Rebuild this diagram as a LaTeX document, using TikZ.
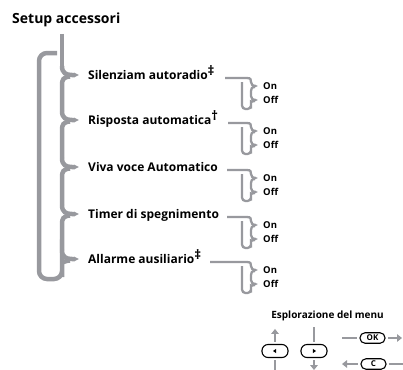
\documentclass[tikz,border=0pt]{standalone}
\usepackage{fontspec}
\setmainfont{Open Sans}
\usetikzlibrary{arrows.meta}

\definecolor{treegray}{RGB}{152,153,158}
\newcommand{\supmark}[1]{\raisebox{0.3em}{\fontsize{13}{13}\selectfont#1}}

\begin{document}
\begin{tikzpicture}[x=1pt, y=-1pt, >=Latex, font=\bfseries,
  trunk/.style={draw=treegray, line width=4.5pt},
  twig/.style={draw=treegray, line width=2.3pt},
  tipend/.style={-{Triangle[length=5pt,width=4.5pt]}},
  twigend/.style={-{Triangle[length=3pt,width=2.3pt]}},
  item/.style={anchor=base west, inner sep=0pt, font=\bfseries\fontsize{12}{14}\selectfont},
  choice/.style={anchor=base west, inner sep=0pt, font=\bfseries\fontsize{9.5}{11}\selectfont},
  navbar/.style={draw=treegray, line width=2.8pt},
  navarrow/.style={navbar, -{Triangle[length=5pt,width=7.5pt]}},
  navkey/.style={draw, line width=1.1pt, inner sep=0pt, rounded corners=6pt,
    minimum width=26pt, minimum height=13pt},
  navoval/.style={draw, line width=1.1pt, inner sep=0pt, rounded corners=5pt,
    minimum width=25pt, minimum height=10.5pt, font=\bfseries\fontsize{8}{8}\selectfont}]
  \useasboundingbox (0,0) rectangle (403,369);

  \node[anchor=base west, inner sep=0pt, font=\bfseries\fontsize{14}{16}\selectfont]
    (title) at (12,24) {Setup accessori};

  % trunk of the menu
  \coordinate (top) at (62,34);
  \draw[trunk] (top) -- (62,66);
  \foreach \a/\b in {75/120,120/167,167/214,214/259}
    \draw[trunk] (70,\a+1.5) .. controls (63,\a+2) and (62,\a+5) .. (62,\a+10) -- (62,\b-9);
  \draw[trunk, rounded corners=8pt] (70,260.5) .. controls (63,261) and (62,264) .. (62,269)
    -- (62,279) -- (39,279) -- (39,53) -- (57,53);

  \foreach \t/\s/\txt [count=\i] in {
      75/225/{Silenziam autoradio\supmark{‡}},
      120/228/{Risposta automatica\supmark{†}},
      167/227/{Viva voce Automatico},
      214/227/{Timer di spegnimento},
      259/210/{Allarme ausiliario\supmark{‡}}}{
    \pgfmathsetmacro{\h}{\t+3}
    \node[item] (item\i) at (88,\t+4.3) {\txt};
    \coordinate (tip\i) at (79,\t);
    \coordinate (feed\i) at (\s,\h);
    \draw[trunk, tipend] (62,\t-9) .. controls (62,\t-2) and (66,\t) .. (72,\t) -- (tip\i);
    % on / off choice
    \node[choice] (on\i) at (263,\h+11.5) {On};
    \node[choice] (off\i) at (263,\h+25.5) {Off};
    \draw[twig, twigend] (feed\i) -- (247,\h) .. controls (251,\h) and (251,\h+2) .. (251,\h+4)
      .. controls (251,\h+7) and (253,\h+8) .. (258,\h+8);
    \draw[twig, twigend] (255,\h+9) .. controls (251.5,\h+9) and (251,\h+11) .. (251,\h+13)
      -- (251,\h+18) .. controls (251,\h+21) and (253,\h+22) .. (258,\h+22);
    \draw[twig, rounded corners=3.5pt] (255,\h+23) .. controls (251.5,\h+23) and (251,\h+25) .. (251,\h+27)
      -- (251,\h+31) -- (242,\h+31) -- (242,\h+4);
  }

  % menu navigation keys
  \node[anchor=base east, inner sep=0pt, font=\bfseries\fontsize{10}{12}\selectfont]
    (navtitle) at (384,318) {Esplorazione del menu};
  \node[navkey] (kleft) at (275,351) {};
  \node[navkey] (kright) at (314,351) {};
  \fill (kleft.center) ++(-2,0) -- ++(3.2,-2.2) -- ++(0,4.4) -- cycle;
  \fill (kright.center) ++(2,0) -- ++(-3.2,-2.2) -- ++(0,4.4) -- cycle;
  \draw[navarrow] ([shift={(0,-2)}]kleft.north) -- ++(0,-13);
  \draw[navbar] ([shift={(0,2)}]kleft.south) -- ++(0,12);
  \draw[navbar] ([shift={(0,-2)}]kright.north) -- ++(0,-15);
  \draw[navarrow] ([shift={(0,2)}]kright.south) -- ++(0,10);
  \node[navoval] (kok) at (372.5,338) {OK};
  \node[navoval] (kc) at (373.5,364) {C};
  \draw[navbar] (342,338) -- ([shift={(-2,0)}]kok.west);
  \draw[navarrow] ([shift={(2.5,0)}]kok.east) -- (402,338);
  \draw[navarrow] ([shift={(-2.5,0)}]kc.west) -- (342,364);
  \draw[navbar] ([shift={(2,0)}]kc.east) -- (403,364);
\end{tikzpicture}
\end{document}
